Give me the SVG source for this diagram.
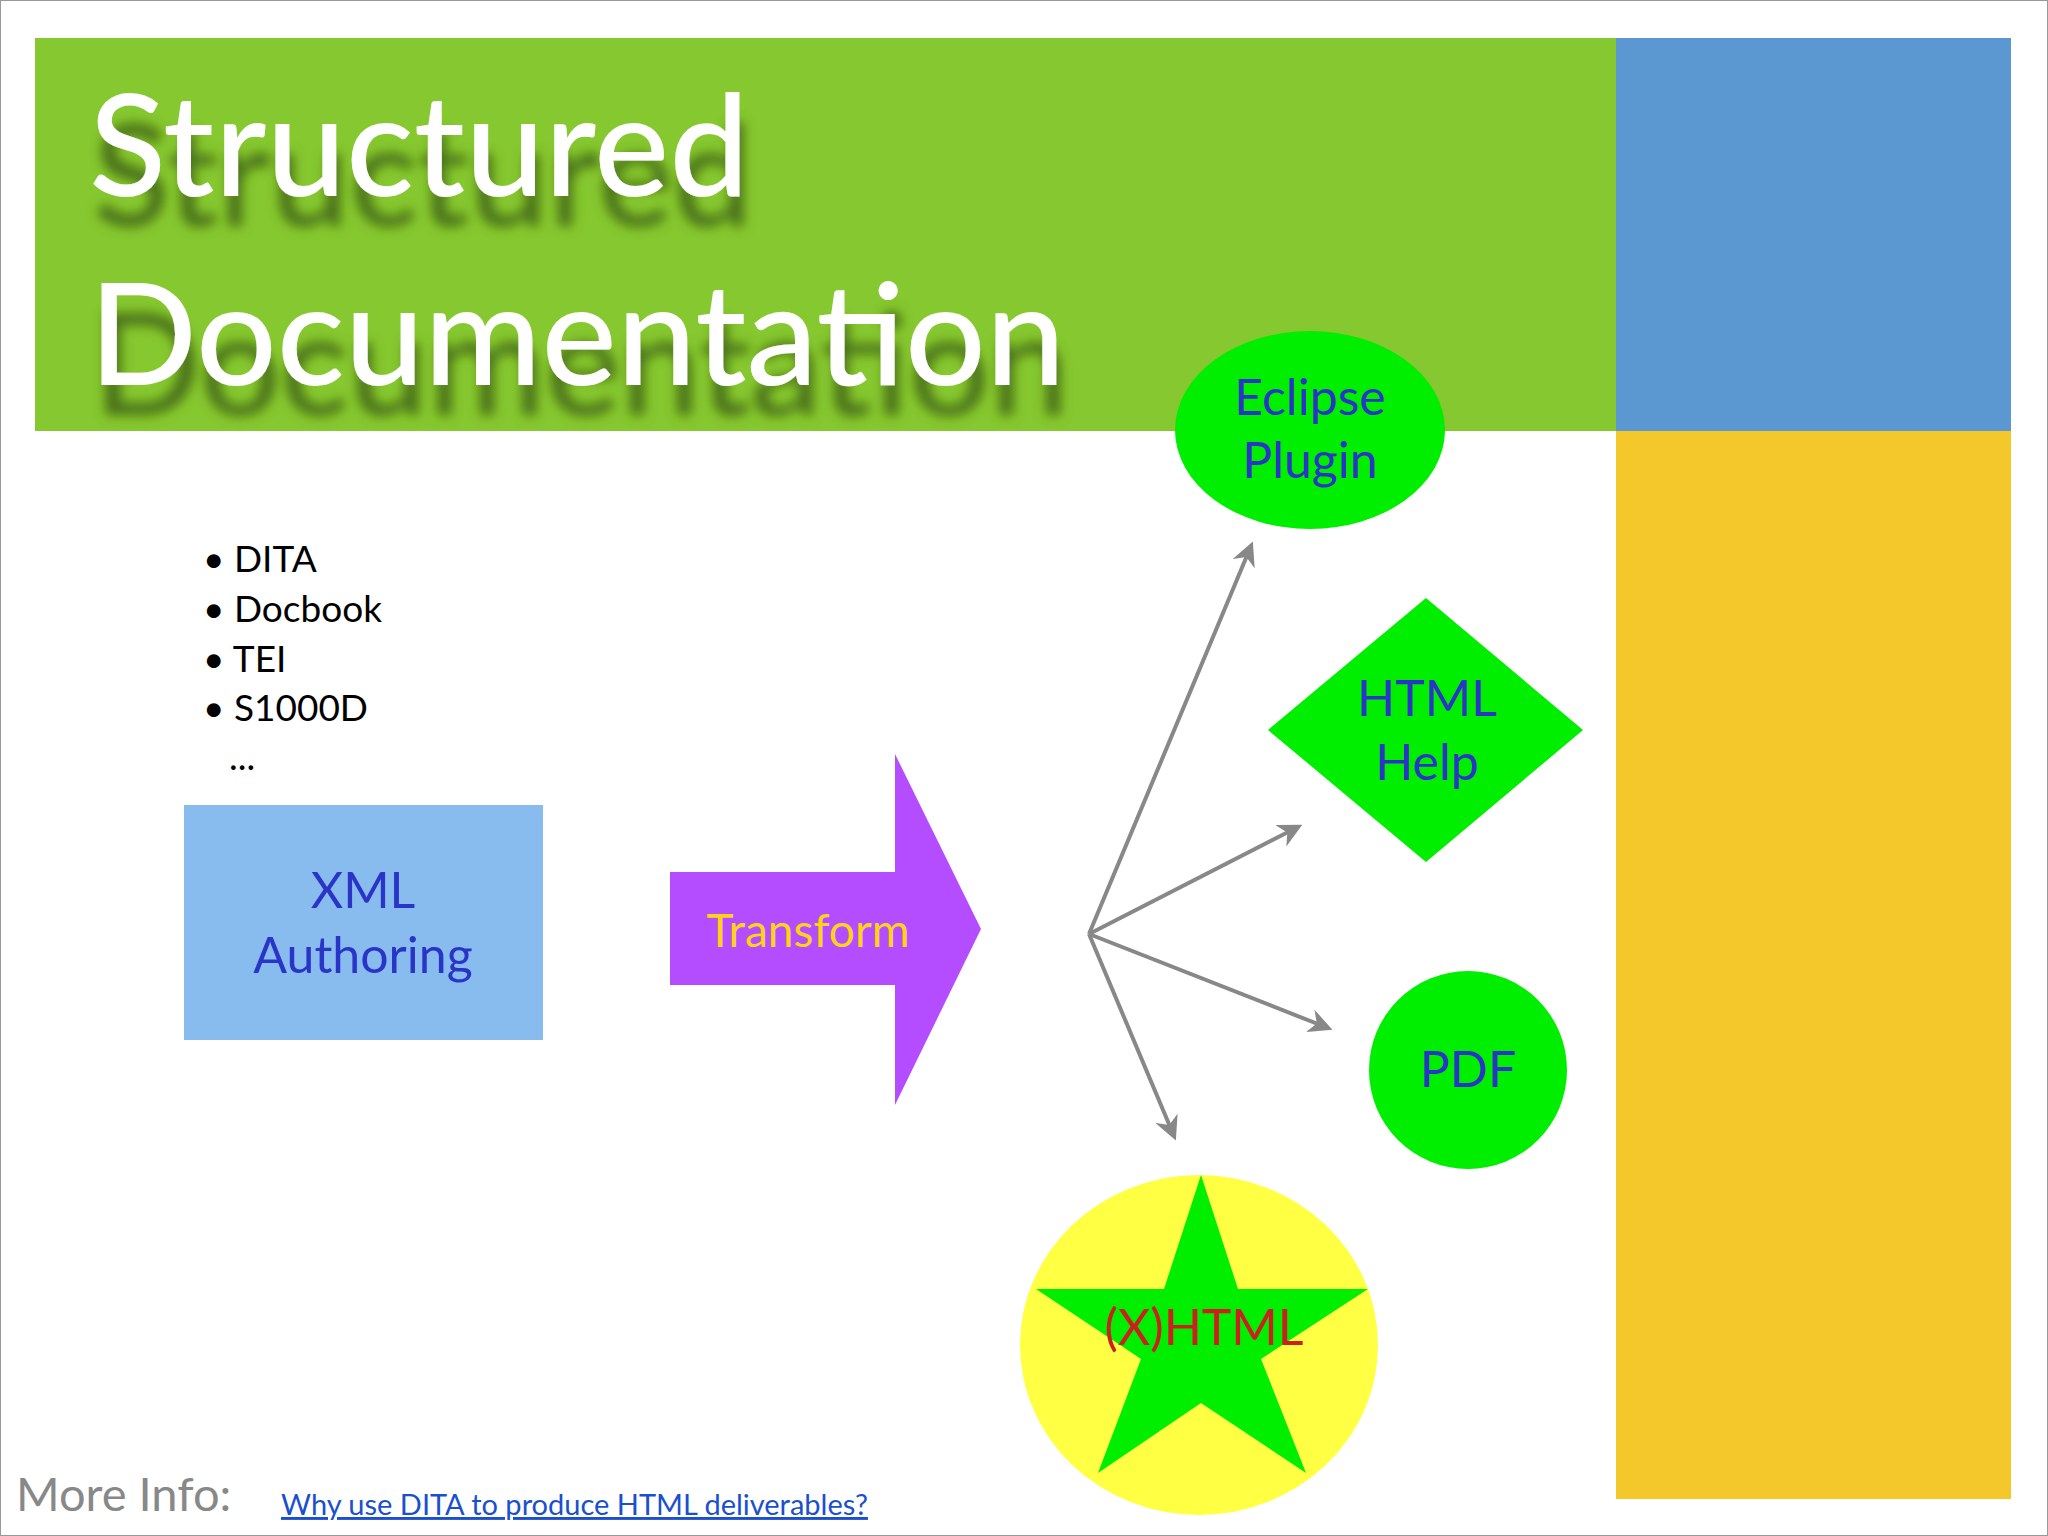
<svg xmlns="http://www.w3.org/2000/svg" width="2048" height="1536" viewBox="0 0 2048 1536">
<defs>
<style>
.t{font-family:Lato,"Noto Sans",sans-serif}
.n{fill:#2a35c8;font-size:50px;text-anchor:middle}
.b{fill:#000;font-size:37px}
.c{stroke:#888;stroke-width:4;fill:none;marker-end:url(#ah)}
</style>
<marker id="ah" viewBox="0 0 10 10" refX="8" refY="5" markerWidth="24" markerHeight="24" orient="auto" markerUnits="userSpaceOnUse"><path d="M0,0 L10,5 L0,10 L3,5 Z" fill="#888"/></marker>
<filter id="sh" x="-10%" y="-20%" width="120%" height="160%">
<feGaussianBlur in="SourceAlpha" stdDeviation="6"/>
<feOffset dx="4" dy="30" result="o"/>
<feFlood flood-color="#3a5a10" flood-opacity="0.8"/>
<feComposite in2="o" operator="in"/>
<feMerge><feMergeNode/><feMergeNode in="SourceGraphic"/></feMerge>
</filter>
</defs>
<rect x="0" y="0" width="2048" height="1536" fill="#fff" stroke="#999" stroke-width="2"/>
<g id="bands">
<rect x="35" y="38" width="1581" height="393" fill="#86c82f"/>
<rect x="1616" y="38" width="395" height="393" fill="#5b97d0"/>
<rect x="1616" y="431" width="395" height="1068" fill="#f4c82a"/>
</g>
<g id="title" class="t" font-size="142" font-weight="500" fill="#fff" filter="url(#sh)">
<text x="89" y="196">Structured</text>
<text x="89" y="385">Documentation</text>
</g>
<g id="bullets" class="t b">
<text x="203" y="572">• DITA</text>
<text x="203" y="622">• Docbook</text>
<text x="203" y="672">• TEI</text>
<text x="203" y="721">• S1000D</text>
<text x="229" y="770">...</text>
</g>
<g id="connectors">
<line class="c" x1="1089" y1="934" x2="1251" y2="546"/>
<line class="c" x1="1089" y1="934" x2="1298" y2="827"/>
<line class="c" x1="1089" y1="934" x2="1328" y2="1028"/>
<line class="c" x1="1089" y1="934" x2="1174" y2="1136"/>
</g>
<g id="xml"><rect x="184" y="805" width="359" height="235" fill="#88bbee"/>
<text class="t n" x="363" y="908">XML</text><text class="t n" x="363" y="973">Authoring</text></g>
<g id="transform"><path d="M670,872 H895 V754 L981,929 L895,1105 V985 H670 Z" fill="#b44dff"/>
<text class="t" x="808" y="947" fill="#ffd21a" font-size="46" text-anchor="middle">Transform</text></g>
<g id="eclipse"><ellipse cx="1310" cy="430" rx="135" ry="99" fill="#00ee00"/>
<text class="t n" x="1310" y="415">Eclipse</text><text class="t n" x="1310" y="478">Plugin</text></g>
<g id="htmlhelp"><path d="M1426,598 L1583,730 L1426,862 L1268,730 Z" fill="#00ee00"/>
<text class="t n" x="1427" y="716">HTML</text><text class="t n" x="1427" y="780">Help</text></g>
<g id="pdf"><circle cx="1468" cy="1070" r="99" fill="#00ee00"/>
<text class="t n" x="1468" y="1087">PDF</text></g>
<g id="xhtml"><ellipse cx="1199" cy="1345" rx="179" ry="170" fill="#ffff44"/>
<path d="M1201,1175 L1238,1289 L1368,1289 L1261,1359 L1306,1473 L1201,1403 L1098,1473 L1141,1359 L1036,1289 L1164,1289 Z" fill="#00ee00"/>
<text class="t" x="1204" y="1345" fill="#cc2020" font-size="50" text-anchor="middle">(X)HTML</text></g>
<g id="footer" class="t">
<text x="16" y="1511" fill="#888" font-size="47">More Info:</text>
<text x="281" y="1515" fill="#1a4fd0" font-size="29" text-decoration="underline">Why use DITA to produce HTML deliverables?</text>
</g>
</svg>
